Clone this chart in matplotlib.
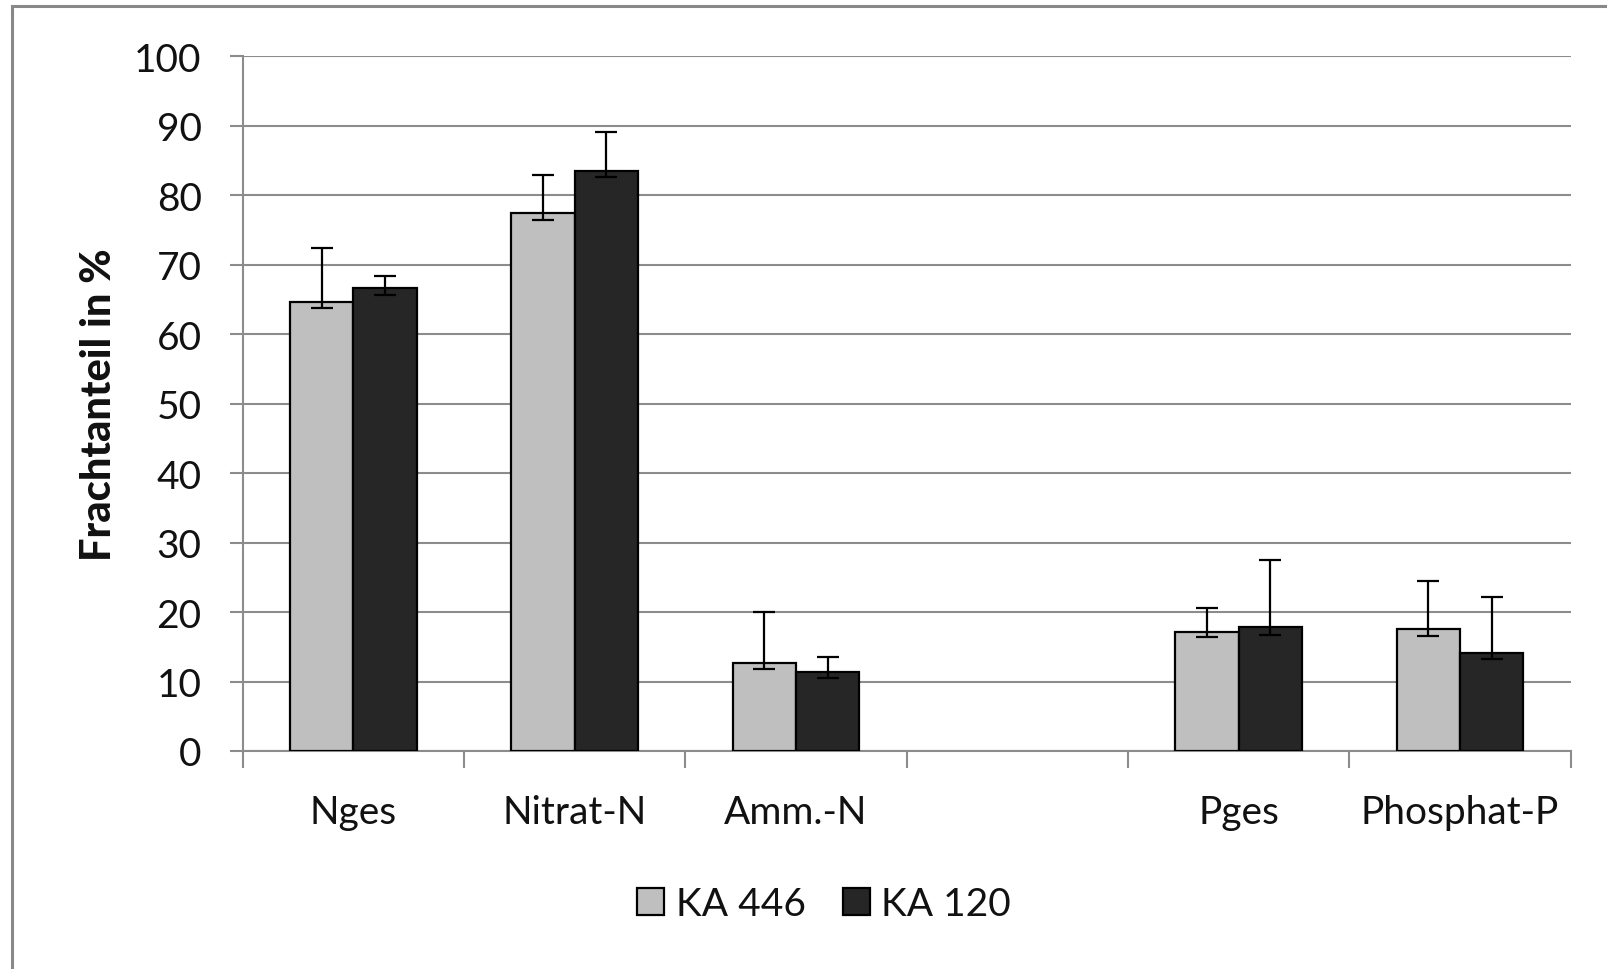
import numpy as np
import matplotlib
matplotlib.use("Agg")
import matplotlib.pyplot as plt
from matplotlib.patches import Rectangle

plt.rcParams['font.family'] = ['Lato', 'DejaVu Sans']

# Categories (one empty slot separates the nitrogen and phosphorus groups)
categories = ['Nges', 'Nitrat-N', 'Amm.-N', '', 'Pges', 'Phosphat-P']
series_names = ['KA 446', 'KA 120']

ka446_mean = [64.7, 77.4, 12.6, np.nan, 17.2, 17.6]
ka446_low = [63.8, 76.4, 11.8, np.nan, 16.4, 16.6]
ka446_high = [72.4, 82.9, 20.0, np.nan, 20.6, 24.4]

ka120_mean = [66.6, 83.5, 11.4, np.nan, 17.8, 14.1]
ka120_low = [65.7, 82.6, 10.5, np.nan, 16.7, 13.3]
ka120_high = [68.4, 89.1, 13.5, np.nan, 27.5, 22.2]

y_ticks = list(range(0, 101, 10))

colors = ['#bfbfbf', '#262626']
grid_color = '#8c8c8c'

W, H = 1607, 970
fig = plt.figure(figsize=(W / 100, H / 100), dpi=100)
ax = fig.add_axes([242.7 / W, 1 - 752 / H, (1570.7 - 242.7) / W, (752 - 57.3) / H])

x = np.arange(len(categories))
bw = 1 / 3.5  # gap width 150 %

series = [
    (ka446_mean, ka446_low, ka446_high),
    (ka120_mean, ka120_low, ka120_high),
]
handles = []
for i, (mean, low, high) in enumerate(series):
    mean = np.array(mean, dtype=float)
    yerr = np.vstack([mean - np.array(low, dtype=float), np.array(high, dtype=float) - mean])
    pos = x + (i - 0.5) * bw
    b = ax.bar(pos, mean, width=bw, color=colors[i], edgecolor='black',
               linewidth=1.6, zorder=3, label=series_names[i])
    ax.errorbar(pos, mean, yerr=yerr, fmt='none', ecolor='black',
                elinewidth=1.6, capsize=8, capthick=1.6, zorder=4)
    handles.append(b)

ax.set_xlim(-0.5, len(categories) - 0.5)
ax.set_ylim(0, 100)
ax.set_yticks(y_ticks)
ax.yaxis.grid(True, color=grid_color, linewidth=1.5, zorder=0)
ax.set_axisbelow(True)

# category labels centred, tick marks on category boundaries
ax.set_xticks(x)
ax.set_xticklabels(categories)
ax.set_xticks(np.arange(-0.5, len(categories), 1.0), minor=True)
ax.tick_params(axis='x', which='major', length=0, pad=31, labelsize=28, labelcolor='#111111')
ax.tick_params(axis='x', which='minor', length=12, width=1.5, color=grid_color, direction='out')
ax.tick_params(axis='y', length=9.5, width=1.5, color=grid_color, pad=20,
               labelsize=28, labelcolor='#111111')

for s in ['top', 'right']:
    ax.spines[s].set_visible(False)
for s in ['left', 'bottom']:
    ax.spines[s].set_color(grid_color)
    ax.spines[s].set_linewidth(1.5)

ax.set_ylabel('Frachtanteil in %', fontsize=30, fontweight='black', labelpad=12, color='#111111')

leg = fig.legend(handles=handles, labels=series_names, loc='center',
                 bbox_to_anchor=(824 / W, 1 - 905 / H), ncol=2, frameon=False,
                 fontsize=28, handlelength=0.7, handleheight=0.7,
                 handletextpad=0.3, columnspacing=0.95, borderpad=0)
for t in leg.get_texts():
    t.set_color('#111111')

# outer chart frame (left and top edges visible)
fig.patches.append(Rectangle((11.5 / W, -0.1), 1.2, 1.1 - 7 / H,
                             transform=fig.transFigure, fill=False,
                             edgecolor='#888888', linewidth=2.2))

fig.savefig('out.png', dpi=100)
